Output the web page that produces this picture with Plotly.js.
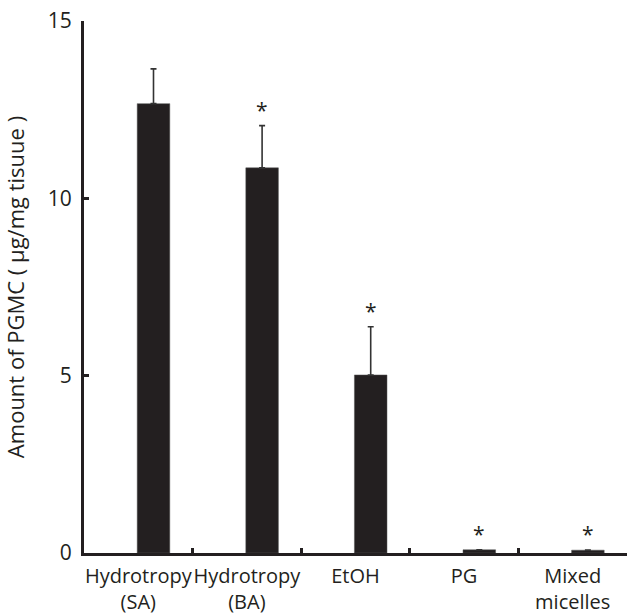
<!DOCTYPE html>
<html>
<head>
<meta charset="utf-8">
<script src="https://cdn.plot.ly/plotly-3.0.1.min.js"></script>
<style>html,body{margin:0;padding:0;background:#fff;}#chart{width:628px;height:616px;}</style>
</head>
<body>
<div id="chart"></div>
<script>
const categories = ["Hydrotropy<br>(SA)", "Hydrotropy<br>(BA)", "EtOH", "PG", "Mixed<br>micelles"];
const amounts = [12.67, 10.86, 5.02, 0.09, 0.08];
const sdUpper = [0.98, 1.19, 1.36, 0, 0];
const significant = [false, true, true, true, true];

const BAR_OFFSET = -0.01;
const BAR_WIDTH = 0.3;
const INK = "#231f20";
const FONT = "Open Sans, Noto Sans, sans-serif";

const bar = {
  type: "bar",
  x: categories,
  y: amounts,
  offset: BAR_OFFSET,
  width: BAR_WIDTH,
  marker: {color: INK, line: {color: "#555", width: 0.5}},
  error_y: {
    type: "data", symmetric: false, array: sdUpper,
    arrayminus: sdUpper.map(() => 0),
    color: "#333", thickness: 1.6, width: 3
  },
  hoverinfo: "skip"
};

const annotations = [];
categories.forEach((c, i) => {
  if (!significant[i]) return;
  annotations.push({
    x: i + BAR_OFFSET + BAR_WIDTH / 2, xref: "x",
    y: amounts[i] + sdUpper[i], yref: "y",
    text: "*", showarrow: false, yanchor: "bottom", yshift: 0,
    font: {family: FONT, size: 21, color: INK}
  });
});

const layout = {
  width: 628, height: 616,
  margin: {l: 84, r: 1, t: 21, b: 63},
  paper_bgcolor: "#fff", plot_bgcolor: "#fff",
  showlegend: false,
  font: {family: FONT, size: 20, color: INK},
  bargap: 0,
  xaxis: {
    type: "category",
    range: [-0.5, 4.5],
    showline: true, linecolor: INK, linewidth: 3,
    ticks: "inside", tickson: "boundaries", ticklen: 5, tickwidth: 3, tickcolor: INK,
    showgrid: false, zeroline: false,
    tickangle: 0, automargin: false,
    ticklabelstandoff: 3,
    tickfont: {family: FONT, size: 20, color: INK},
    fixedrange: true
  },
  yaxis: {
    range: [0, 15],
    tickvals: [0, 5, 10, 15],
    showline: true, linecolor: INK, linewidth: 3,
    ticks: "inside", ticklen: 5, tickwidth: 3, tickcolor: INK,
    showgrid: false, zeroline: false,
    ticklabelstandoff: 5, automargin: false,
    tickfont: {family: FONT, size: 21, color: INK},
    title: {text: "Amount of PGMC ( µg/mg tisuue )", standoff: 22,
            font: {family: FONT, size: 22, color: INK}},
    fixedrange: true
  },
  annotations: annotations
};

Plotly.newPlot("chart", [bar], layout, {displayModeBar: false, staticPlot: true});
</script>
</body>
</html>
